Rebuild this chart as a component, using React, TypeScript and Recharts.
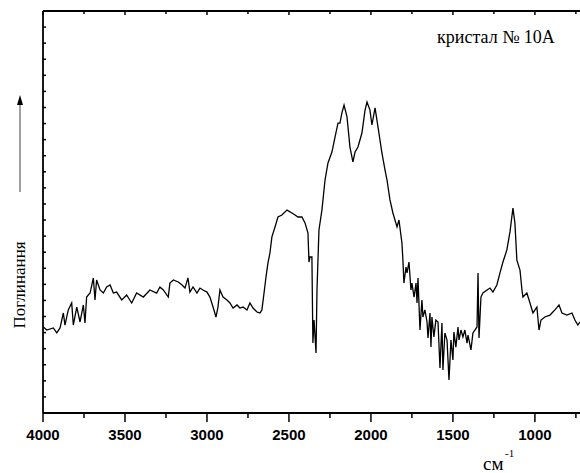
import React from 'react';
import { LineChart, Line, XAxis, YAxis } from 'recharts';

const wavenumbers = [
  3998, 3977, 3937, 3916, 3896, 3876, 3866, 3846, 3825, 3815, 3794, 3774, 3754, 3744, 3734, 3713, 3693, 3683, 3673, 3652,
  3632, 3612, 3591, 3571, 3551, 3520, 3490, 3459, 3429, 3388, 3348, 3307, 3287, 3266, 3236, 3226, 3205, 3175,
  3152, 3134, 3116, 3104, 3085, 3061, 3043, 3024, 3000, 2982, 2963, 2945, 2933, 2921, 2902, 2878, 2860, 2841, 2817, 2799,
  2780, 2756, 2738, 2719, 2695, 2677, 2665, 2652, 2640, 2628,
  2616, 2604, 2585, 2567, 2543, 2512, 2482, 2463, 2445, 2421, 2402, 2384, 2378, 2372, 2360, 2354, 2347, 2335, 2329, 2317,
  2299, 2280, 2262, 2238, 2219, 2201, 2189, 2177, 2164, 2146, 2128, 2110, 2097, 2079, 2055, 2036, 2024, 2006, 1994, 1975,
  1957, 1933, 1914, 1902, 1884, 1866, 1841, 1829,
  1811, 1805, 1799, 1786, 1780, 1768, 1756, 1750, 1737, 1725, 1719, 1713, 1701, 1689, 1683, 1671, 1658, 1652, 1640, 1634,
  1628, 1616, 1604, 1591, 1579, 1567, 1561, 1549, 1536, 1524, 1512, 1500, 1494, 1482, 1469, 1463, 1451, 1439, 1427, 1414,
  1408, 1390, 1378, 1366, 1353, 1347, 1341, 1329, 1317,
  1292, 1274, 1256, 1232, 1213, 1195, 1171, 1152, 1134, 1122, 1110, 1091, 1079, 1073, 1049, 1030, 1012,
  988, 975, 963, 939, 908, 878, 853, 835, 805, 774, 756, 738, 725,
];

const absorbance = [
  5.35, 5.16, 5.29, 4.98, 5.29, 6.22, 5.47, 6.41, 6.84, 5.47, 6.59, 5.66, 6.72, 5.6, 7.21, 7.46, 8.4, 7.03, 8.27, 7.65,
  7.46, 7.84, 7.96, 7.46, 7.52, 7.03, 7.34, 6.84, 7.46, 7.21, 7.65, 7.46, 7.84, 7.65, 7.21, 8.08, 8.27, 8.15,
  7.96, 7.77, 8.4, 7.52, 7.84, 7.46, 7.77, 7.65, 7.52, 7.21, 6.59, 5.97, 6.59, 7.65, 7.21, 7.03, 6.84, 6.53, 6.72, 6.53,
  6.59, 6.41, 6.84, 6.53, 6.28, 6.22, 6.41, 7.46, 8.46, 9.33,
  9.95, 10.95, 11.57, 12.19, 12.31, 12.62, 12.44, 12.31, 12.19, 12.19, 11.82, 11.19, 9.39, 9.7, 9.7, 4.35, 5.78, 3.73, 7.65, 11.38,
  12.62, 14.49, 15.55, 16.23, 17.16, 18.03, 18.03, 18.66, 19.15, 18.41, 16.54, 15.61, 16.23, 16.54, 17.41, 18.84, 19.34, 18.84, 17.91, 18.97,
  17.79, 16.17, 15.11, 14.49, 13.25, 12.44, 11.57, 12.0,
  10.57, 9.51, 8.08, 9.08, 8.71, 9.39, 7.65, 8.08, 7.21, 8.08, 6.84, 8.4, 5.16, 7.03, 5.97, 6.41, 5.66, 4.66, 6.22, 4.1,
  5.97, 4.73, 5.78, 5.66, 2.8, 5.6, 2.67, 4.98, 4.54, 2.05, 4.54, 3.3, 5.04, 4.1, 5.35, 4.54, 5.16, 4.73, 5.16, 4.35,
  4.85, 3.92, 4.98, 5.16, 5.35, 8.71, 4.66, 7.21, 7.46,
  7.65, 7.77, 7.52, 7.96, 8.71, 9.39, 10.14, 11.26, 12.75, 11.82, 9.51, 8.89, 7.65, 7.21, 7.46, 6.84, 6.22,
  6.59, 5.16, 5.78, 5.97, 6.09, 6.41, 6.72, 6.22, 6.09, 6.22, 5.78, 5.47, 5.66,
];

const xTicks = [4000, 3750, 3500, 3250, 3000, 2750, 2500, 2250, 2000, 1750, 1500, 1250, 1000, 750];
const yTicks = Array.from({ length: 26 }, (_, i) => i);

const data = wavenumbers.map((wn, i) => ({ wn, a: absorbance[i] }));

const BottomTick = (props: any) => {
  const { x, y, payload } = props;
  const v = payload.value;
  const major = v % 500 === 0;
  return (
    <g>
      <line x1={x} x2={x} y1={y} y2={y + (major ? 9 : 5)} stroke="#000" strokeWidth={1.5} />
      {major && (
        <text
          x={x}
          y={y + 27}
          textAnchor="middle"
          fontFamily="'Liberation Sans', Arial, sans-serif"
          fontWeight="bold"
          fontSize={15}
          fill="#000"
        >
          {v}
        </text>
      )}
    </g>
  );
};

const TopTick = (props: any) => {
  const { x, y, payload } = props;
  const major = payload.value % 500 === 0;
  return <line x1={x} x2={x} y1={y} y2={y + (major ? 4 : 3)} stroke="#000" strokeWidth={1.5} />;
};

const LeftTick = (props: any) => {
  const { x, y } = props;
  return <line x1={x} x2={x + 3} y1={y} y2={y} stroke="#000" strokeWidth={1.5} />;
};

export default function App() {
  return (
    <div style={{ position: 'absolute', left: 0, top: 0, width: 580, height: 473, background: '#fff' }}>
      <LineChart width={580} height={473} data={data} margin={{ top: 6, right: 0, bottom: 20, left: 33 }}>
        <XAxis
          dataKey="wn"
          type="number"
          domain={[725, 4000]}
          reversed
          ticks={xTicks}
          interval={0}
          height={40}
          tickSize={0}
          tickMargin={0}
          tickLine={false}
          axisLine={{ stroke: '#000', strokeWidth: 1.8 }}
          tick={<BottomTick />}
          allowDataOverflow
        />
        <XAxis
          xAxisId="top"
          orientation="top"
          dataKey="wn"
          type="number"
          domain={[725, 4000]}
          reversed
          ticks={xTicks}
          interval={0}
          height={5}
          tickSize={0}
          tickMargin={0}
          tickLine={false}
          axisLine={{ stroke: '#000', strokeWidth: 1.8 }}
          tick={<TopTick />}
          allowDataOverflow
        />
        <YAxis
          type="number"
          domain={[0, 25]}
          ticks={yTicks}
          interval={0}
          width={10}
          tickSize={0}
          tickMargin={0}
          tickLine={false}
          axisLine={{ stroke: '#000', strokeWidth: 1.8 }}
          tick={<LeftTick />}
          allowDataOverflow
        />
        <Line
          dataKey="a"
          stroke="#000"
          strokeWidth={1.3}
          dot={false}
          isAnimationActive={false}
          type="linear"
        />
      </LineChart>
      <svg
        width={580}
        height={473}
        style={{ position: 'absolute', left: 0, top: 0, pointerEvents: 'none' }}
      >
        <text
          x={496}
          y={43}
          textAnchor="middle"
          fontFamily="'Liberation Serif', 'Times New Roman', serif"
          fontSize={18}
          fill="#000"
        >
          кристал № 10А
        </text>
        <line x1={20} y1={192} x2={20} y2={104} stroke="#808080" strokeWidth={1.5} />
        <polygon points="20,95 17,105 23,105" fill="#000" />
        <text
          x={0}
          y={0}
          transform="translate(25,285) rotate(-90)"
          textAnchor="middle"
          fontFamily="'Liberation Serif', 'Times New Roman', serif"
          fontSize={17}
          fill="#000"
        >
          Поглинання
        </text>
        <text
          x={483}
          y={470}
          fontFamily="'Liberation Serif', 'Times New Roman', serif"
          fontSize={19}
          fill="#000"
        >
          см
        </text>
        <text
          x={505}
          y={457}
          fontFamily="'Liberation Serif', 'Times New Roman', serif"
          fontSize={11}
          fill="#000"
        >
          -1
        </text>
      </svg>
    </div>
  );
}
